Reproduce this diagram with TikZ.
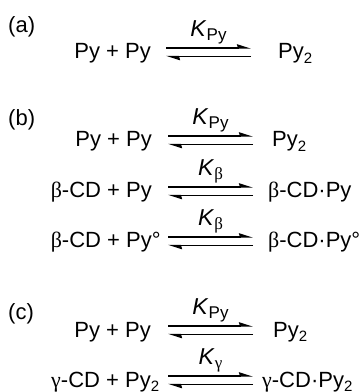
\documentclass[tikz,border=0pt]{standalone}
\usepackage{fontspec}
\setmainfont{Liberation Sans}
\newfontfamily\grkfont{Liberation Serif}
\usetikzlibrary{arrows.meta}
\newcommand{\bet}{{\grkfont β}}
\newcommand{\gam}{{\grkfont γ}}
\newcommand{\sub}[1]{\raisebox{-4.5pt}{\fontsize{15}{15}\selectfont #1}}
\newcommand{\kconst}[1]{\textit{K}\raisebox{-4.5pt}{\fontsize{17}{17}\selectfont #1}}

\begin{document}
\begin{tikzpicture}[x=1pt,y=1pt,>=Stealth,
  every node/.style={font=\fontsize{22}{26}\selectfont,inner sep=0pt},
  tag/.style={anchor=base west},
  lhs/.style={anchor=base east},
  rhs/.style={anchor=base west},
  harp/.style={line width=1.3pt,-{Stealth[left,length=12pt,width=7.5pt,inset=1pt]}},
  klab/.style={above=3pt,font=\fontsize{23}{26}\selectfont}]
\useasboundingbox (0,0) rectangle (361,392);
% (a)
\node[tag] (tag-a) at (8,359) {(a)};
\node[lhs] (a1-l) at (151,333) {Py + Py};
\node[rhs] (a1-r) at (278,333) {Py\sub{2}};
% (b)
\node[tag] (tag-b) at (8,266) {(b)};
\node[lhs] (b1-l) at (152,245) {Py + Py};
\node[rhs] (b1-r) at (272,245) {Py\sub{2}};
\node[lhs] (b2-l) at (152,194) {\bet-CD + Py};
\node[rhs] (b2-r) at (268,194) {\bet-CD·Py};
\node[lhs] (b3-l) at (152,144) {\bet-CD + Py\rlap{°}};
\node[rhs] (b3-r) at (268,144) {\bet-CD·Py°};
% (c)
\node[tag] (tag-c) at (8,73) {(c)};
\node[lhs] (c1-l) at (151,55) {Py + Py};
\node[rhs] (c1-r) at (273,55) {Py\sub{2}};
\node[lhs] (c2-l) at (151,5) {\gam-CD + Py\rlap{\sub{2}}};
\node[rhs] (c2-r) at (262,5) {\gam-CD·Py\sub{2}};
% equilibrium arrows
\foreach \r/\xa/\xb/\k in {a1/166/251/\kconst{Py},b1/168/253/\kconst{Py},
    b2/168/253/\kconst{\bet},b3/168/253/\kconst{\bet},
    c1/168/253/\kconst{Py},c2/168/253/\kconst{\gam}}{
  \coordinate (\r-w) at (\xa,0 |- \r-l.base);
  \coordinate (\r-e) at (\xb,0 |- \r-l.base);
  \draw[harp] ([yshift=11pt]\r-w) -- ([yshift=11pt]\r-e) node[klab,midway] {\k};
  \draw[harp] ([yshift=2.5pt]\r-e) -- ([yshift=2.5pt]\r-w);
}
\end{tikzpicture}
\end{document}
